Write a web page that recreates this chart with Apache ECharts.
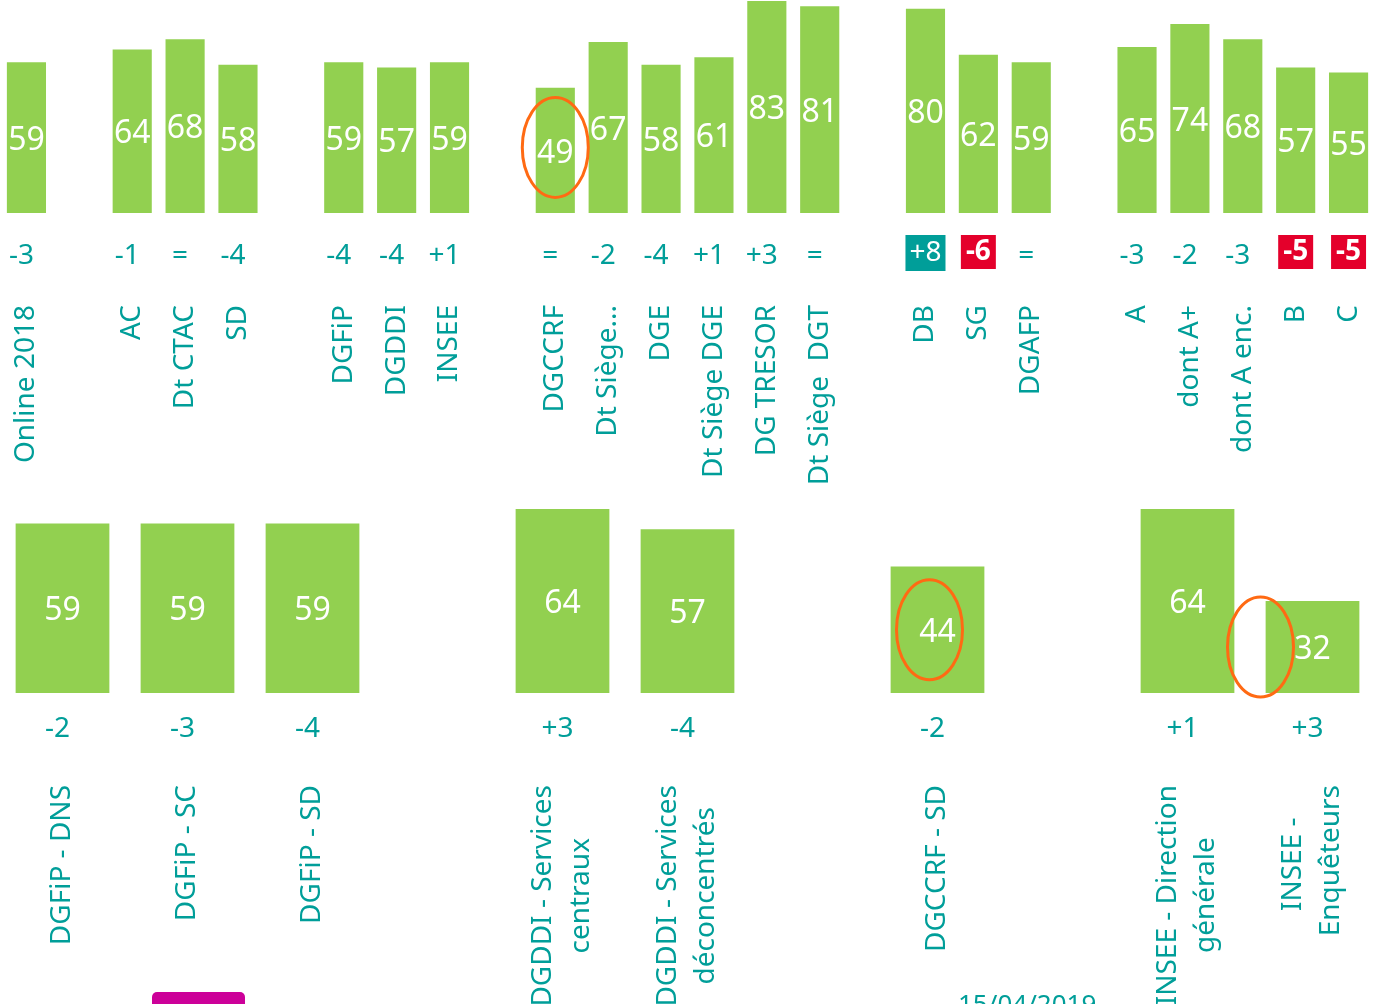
<!DOCTYPE html>
<html><head><meta charset="utf-8">
<script src="https://cdn.jsdelivr.net/npm/echarts@6/dist/echarts.min.js"></script>
<style>html,body{margin:0;padding:0;background:#fff;overflow:hidden}#c{width:1375px;height:1004px}</style>
</head><body><div id="c"></div>
<script>
// ---- data ----
const topCategories = ['Online 2018', '', 'AC', 'Dt CTAC', 'SD', '', 'DGFiP', 'DGDDI', 'INSEE', '',
  'DGCCRF', 'Dt Siège...', 'DGE', 'Dt Siège DGE', 'DG TRESOR', 'Dt Siège  DGT', '',
  'DB', 'SG', 'DGAFP', '', 'A', 'dont A+', 'dont A enc.', 'B', 'C'];
const topValues = [59, null, 64, 68, 58, null, 59, 57, 59, null,
  49, 67, 58, 61, 83, 81, null, 80, 62, 59, null, 65, 74, 68, 57, 55];
const topDeltas = [-3, null, -1, 0, -4, null, -4, -4, 1, null,
  0, -2, -4, 1, 3, 0, null, 8, -6, 0, null, -3, -2, -3, -5, -5];

const bottomCategories = ['DGFiP - DNS', 'DGFiP - SC', 'DGFiP - SD', '',
  'DGDDI - Services\ncentraux', 'DGDDI - Services\ndéconcentrés', '',
  'DGCCRF - SD', '', 'INSEE - Direction\ngénérale', 'INSEE - \nEnquêteurs'];
const bottomValues = [59, 59, 59, null, 64, 57, null, 44, null, 64, 32];
const bottomDeltas = [-2, -3, -4, null, 3, -4, null, -2, null, 1, 3];

const highlightThreshold = 5;
const footerDate = '15/04/2019';

// ---- styles ----
const TEAL = '#009e99', RED = '#e4002b', GREEN = '#92d050', ORANGE = '#ff6a13';
const FONT = 'Noto Sans';

function fmtDelta(d) {
  if (d === 0) return '=';
  return d > 0 ? '+' + d : '-' + Math.abs(d);
}
function deltaFormatter(deltas) {
  return function (v, i) {
    const d = deltas[i];
    if (d == null) return '';
    const t = fmtDelta(d);
    if (Math.abs(d) >= highlightThreshold) return d > 0 ? '{up|' + t + '}' : '{down|' + t + '}';
    return '{n|' + t + '}';
  };
}
const deltaRich = {
  n: { fontFamily: FONT, fontSize: 28, color: TEAL, lineHeight: 40, height: 40, padding: [0, 10, 0, 0] },
  up: { fontFamily: FONT, fontSize: 28, color: '#fff', backgroundColor: TEAL, padding: [4, 4, 4, 4], lineHeight: 34 },
  down: { fontFamily: FONT, fontSize: 28, fontWeight: 'bold', color: '#fff', backgroundColor: RED, padding: [3, 5, 3, 5], lineHeight: 32 }
};
function nameFormatter(v) {
  return String(v).split('\n').map(s => '{c|' + s + '}').join('\n');
}
const nameRich = { c: { fontFamily: FONT, fontSize: 28, color: TEAL, lineHeight: 38, align: 'center' } };

function deltaAxis(grid, cats, deltas, margin) {
  return {
    type: 'category', gridIndex: grid, data: cats, position: 'bottom',
    axisLine: { show: false }, axisTick: { show: false }, splitLine: { show: false },
    axisLabel: { interval: 0, margin: margin, formatter: deltaFormatter(deltas), rich: deltaRich }
  };
}
function nameAxis(grid, cats) {
  return {
    type: 'category', gridIndex: grid, data: cats, position: 'bottom',
    axisLine: { show: false }, axisTick: { show: false }, splitLine: { show: false },
    axisLabel: { interval: 0, rotate: 90, margin: 92, formatter: nameFormatter, rich: nameRich }
  };
}
const valueLabel = { show: true, position: 'inside', offset: [0, 3], color: '#fff', fontFamily: FONT, fontSize: 32 };

const chart = echarts.init(document.getElementById('c'), null, { renderer: 'canvas' });
chart.setOption({
  animation: false,
  backgroundColor: '#fff',
  textStyle: { fontFamily: FONT },
  grid: [
    { left: 0, right: 0, top: 0, height: 213, containLabel: false, outerBoundsMode: 'none' },
    { left: 0, right: 0, top: 463, height: 230, containLabel: false, outerBoundsMode: 'none' }
  ],
  xAxis: [
    deltaAxis(0, topCategories, topDeltas, 23),
    nameAxis(0, topCategories),
    deltaAxis(1, bottomCategories, bottomDeltas, 16),
    nameAxis(1, bottomCategories)
  ],
  yAxis: [
    { type: 'value', gridIndex: 0, min: 0, max: 83.4, show: false },
    { type: 'value', gridIndex: 1, min: 0, max: 80, show: false }
  ],
  series: [
    { type: 'bar', xAxisIndex: 0, yAxisIndex: 0, data: topValues, barWidth: '74%',
      itemStyle: { color: GREEN }, label: valueLabel },
    { type: 'bar', xAxisIndex: 2, yAxisIndex: 1, data: bottomValues, barWidth: '75%',
      itemStyle: { color: GREEN }, label: valueLabel }
  ]
});

// annotation ellipses, anchored on the bars they highlight
const annotations = [
  { xAxisIndex: 0, yAxisIndex: 0, cats: topCategories, vals: topValues, cat: 'DGCCRF', dx: 0, dy: -3 },
  { xAxisIndex: 2, yAxisIndex: 1, cats: bottomCategories, vals: bottomValues, cat: 'DGCCRF - SD', dx: -8, dy: 0 },
  { xAxisIndex: 2, yAxisIndex: 1, cats: bottomCategories, vals: bottomValues, cat: 'INSEE - \nEnquêteurs', dx: -52, dy: 0 }
];
const graphics = annotations.map(a => {
  const idx = a.cats.indexOf(a.cat);
  const p = chart.convertToPixel({ xAxisIndex: a.xAxisIndex, yAxisIndex: a.yAxisIndex }, [idx, a.vals[idx] / 2]);
  return { type: 'ellipse', shape: { cx: p[0] + a.dx, cy: p[1] + a.dy, rx: 33, ry: 50 },
    style: { fill: null, stroke: ORANGE, lineWidth: 3 }, z: 100 };
});
graphics.push({ type: 'rect', shape: { x: 152, y: 992, width: 93, height: 30, r: 5 }, style: { fill: '#cc0099' }, z: 100 });
graphics.push({ type: 'text', left: 958, top: 993, style: { text: footerDate, fill: TEAL, font: '26px "Noto Sans"' }, z: 100 });
chart.setOption({ graphic: graphics });
</script>
</body></html>
